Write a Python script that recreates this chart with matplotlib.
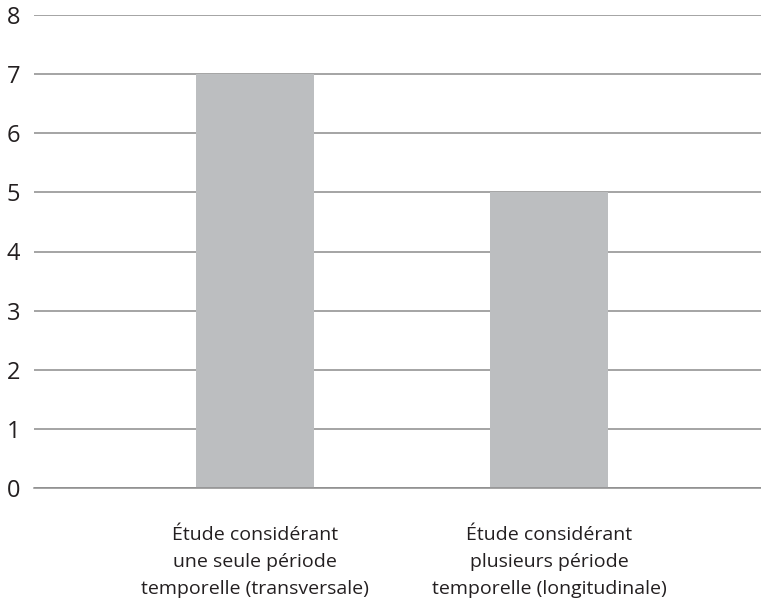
import matplotlib.pyplot as plt
from matplotlib import font_manager

categories = ['Étude considérant\nune seule période\ntemporelle (transversale)',
              'Étude considérant\nplusieurs période\ntemporelle (longitudinale)']
values = [7, 5]
yticks = [0, 1, 2, 3, 4, 5, 6, 7, 8]

names = {f.name for f in font_manager.fontManager.ttflist}
family = 'Liberation Sans Narrow' if 'Liberation Sans Narrow' in names else 'Open Sans'
plt.rcParams['font.family'] = [family, 'DejaVu Sans']

fig = plt.figure(figsize=(7.61, 6.04), dpi=100)
ax = fig.add_axes([34 / 761, 1 - 488 / 604, 727 / 761, 473 / 604])

ax.bar(range(len(values)), values, width=0.4, color='#bcbec0', zorder=2)

ax.set_ylim(0, 8)
ax.set_xlim(-0.752, 1.721)
ax.set_yticks(yticks)
ax.grid(axis='y', color='#8c8c8c', linewidth=1.1, zorder=0)
ax.set_xticks(range(len(categories)))
ax.set_xticklabels(categories, fontsize=14, color='#231f20', linespacing=1.65)
ax.tick_params(axis='y', labelsize=17, colors='#231f20', length=0, pad=10)
ax.tick_params(axis='x', length=0, pad=27)
for s in ['top', 'right', 'left']:
    ax.spines[s].set_visible(False)
ax.spines['bottom'].set_color('#8c8c8c')
ax.spines['bottom'].set_linewidth(1.1)

fig.savefig('out.png', dpi=100)
